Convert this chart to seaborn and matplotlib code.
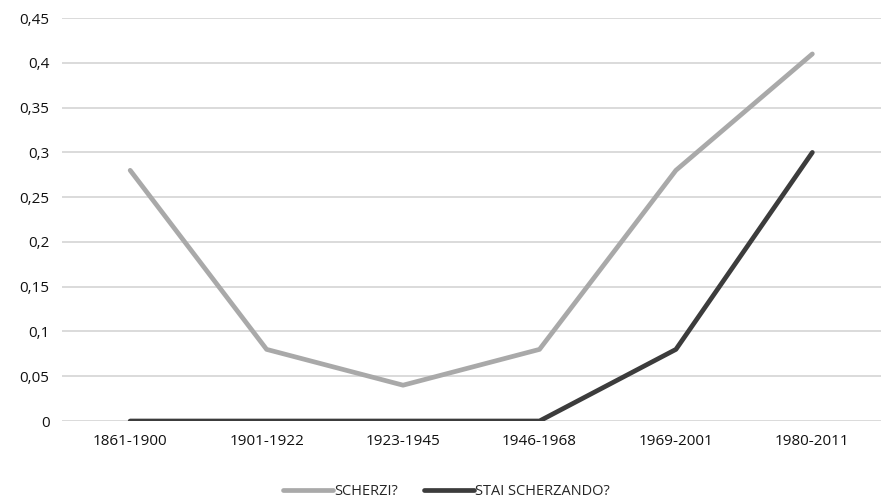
import pandas as pd
import numpy as np
import seaborn as sns
import matplotlib.pyplot as plt
from matplotlib.ticker import FuncFormatter

# data
periods = ['1861-1900', '1901-1922', '1923-1945', '1946-1968', '1969-2001', '1980-2011']
scherzi = [0.28, 0.08, 0.04, 0.08, 0.28, 0.41]
stai_scherzando = [0.0, 0.0, 0.0, 0.0, 0.08, 0.30]

df = pd.DataFrame({
    'periodo': periods * 2,
    'valore': scherzi + stai_scherzando,
    'serie': ['SCHERZI?'] * len(periods) + ['STAI SCHERZANDO?'] * len(periods),
})

sns.set_style('white')
plt.rcParams['font.family'] = ['Open Sans', 'DejaVu Sans']

fig = plt.figure(figsize=(8.85, 5.03), dpi=100)
ax = fig.add_axes([0.070, 0.163, 0.925, 0.801])

# horizontal grid lines
for y in np.arange(0, 0.451, 0.05):
    ax.axhline(y, color='#d4d4d4', lw=1.2, zorder=0)

sns.lineplot(data=df, x='periodo', y='valore', hue='serie',
             palette={'SCHERZI?': '#a9a9a9', 'STAI SCHERZANDO?': '#3c3c3c'},
             lw=3.4, sort=False, ax=ax, zorder=3)

ax.set_xlim(-0.5, 5.5)
ax.set_ylim(0, 0.45)
ax.set_yticks(np.arange(0, 0.451, 0.05))
ax.yaxis.set_major_formatter(FuncFormatter(lambda v, p: ('%g' % round(v, 2)).replace('.', ',')))
ax.tick_params(axis='both', labelsize=11, colors='#111111', length=0, pad=9)
for lab in ax.get_xticklabels() + ax.get_yticklabels():
    lab.set_fontweight('medium')
ax.set_xlabel('')
ax.set_ylabel('')
for s in ax.spines.values():
    s.set_visible(False)

ax.legend(loc='upper center', bbox_to_anchor=(0.47, -0.125), ncol=2, frameon=False,
          fontsize=10.5, handlelength=3.4, handletextpad=0.1, columnspacing=1.8)

fig.savefig('out.png', dpi=100)
